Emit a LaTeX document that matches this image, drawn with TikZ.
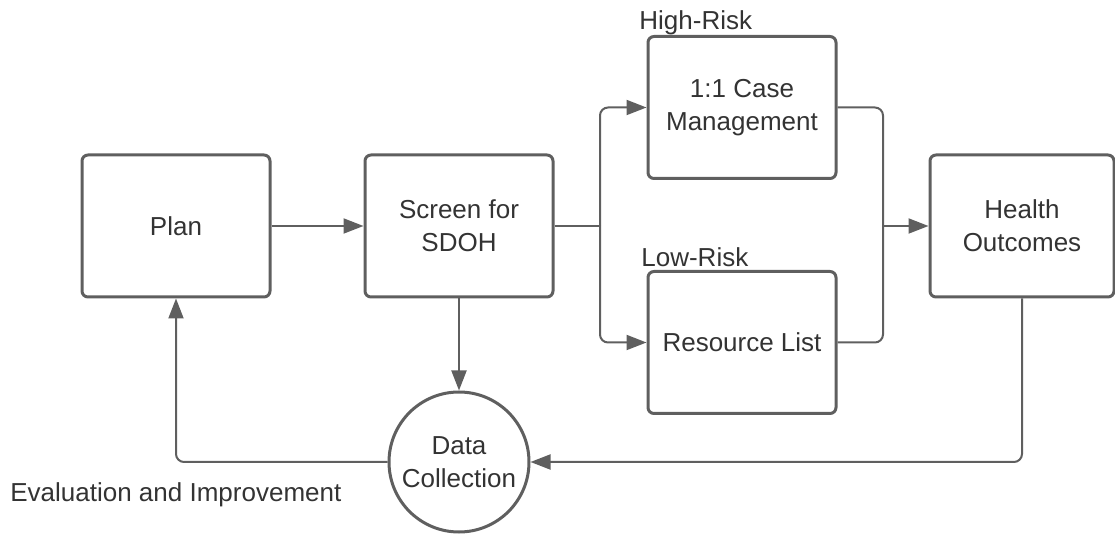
\documentclass[tikz,border=0pt]{standalone}
\usepackage{fontspec}
\setmainfont{Liberation Sans}
\usetikzlibrary{arrows.meta,positioning}

\definecolor{linegray}{HTML}{5F5F5F}
\definecolor{textgray}{HTML}{333333}

\tikzset{
  box/.style={draw=linegray, line width=1.5pt, rounded corners=3pt,
    minimum width=94pt, minimum height=71pt, align=center,
    text=textgray, font=\fontsize{13}{16.5}\selectfont},
  round/.style={circle, draw=linegray, line width=1.5pt, minimum size=70pt,
    inner sep=0pt, align=center, text=textgray,
    font=\fontsize{13}{16.5}\selectfont},
  tag/.style={text=textgray, inner sep=0pt, font=\fontsize{13}{16.5}\selectfont},
  link/.style={draw=linegray, line width=1pt, rounded corners=4pt},
  arr/.style={link, -{Triangle[length=10pt,width=7.5pt]}}
}

\begin{document}
\begin{tikzpicture}[x=0.5pt,y=-0.5pt]
    \useasboundingbox (0,0) rectangle (1115,534);

    \node[box] at (176,226) (plan){Plan};
    \node[box] at (459,226) (screen){Screen for\\SDOH};
    \node[box] at (742,107.5) (case){1:1 Case\\Management};
    \node[box] at (742,342.5) (resource){Resource List};
    \node[box, minimum width=92pt] at (1022,226) (health){Health\\Outcomes};
    \node[round] at (459,462) (data){Data\\Collection};

    \node[tag, anchor=base west] at (639,30) (high){High-Risk};
    \node[tag, anchor=base west] at (641,267) (low){Low-Risk};
    \node[tag, anchor=base west] at (10,502) (eval){Evaluation and Improvement};

    \coordinate (split) at (600,226);
    \coordinate (merge) at (883,226);

    \draw[arr] (plan) -- (screen);
    \draw[link] (screen.east) -- (split);
    \draw[arr] (split) |- (case.west);
    \draw[arr] (split) |- (resource.west);
    \draw[link] (case.east) -| (merge);
    \draw[link] (resource.east) -| (merge);
    \draw[arr] (merge) -- (health.west);
    \draw[arr] (screen.south) -- (data.north);
    \draw[arr] (health.south) |- (data.east);
    \draw[arr] (data.west) -| (plan.south);
\end{tikzpicture}
\end{document}
